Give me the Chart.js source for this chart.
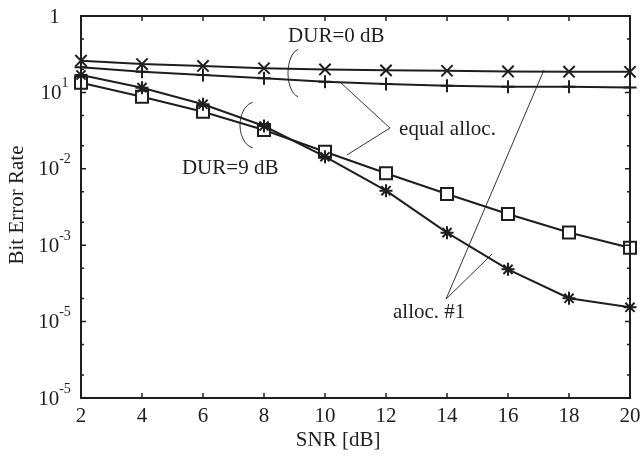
<!DOCTYPE html>
<html>
<head>
<meta charset="utf-8">
<script src="https://cdn.jsdelivr.net/npm/chart.js@4/dist/chart.umd.min.js"></script>
<style>
html,body{margin:0;padding:0;background:#fff;}
#wrap{width:644px;height:458px;position:relative;}
</style>
</head>
<body>
<div id="wrap"><canvas id="c" width="644" height="458"></canvas></div>
<script>
// ---- data ----
const snr = [2, 4, 6, 8, 10, 12, 14, 16, 18, 20];
const berDur0Alloc1 = [0.260, 0.235, 0.222, 0.207, 0.1995, 0.1945, 0.192, 0.188, 0.1866, 0.186];
const berDur0Equal  = [0.213, 0.187, 0.169, 0.153, 0.138, 0.129, 0.1224, 0.1188, 0.1188, 0.1159];
const berDur9Alloc1 = [0.169, 0.1153, 0.0699, 0.0363, 0.01439, 0.00517, 0.00146, 4.83e-4, 2.02e-4, 1.54e-4];
const berDur9Equal  = [0.134, 0.0879, 0.0559, 0.0322, 0.01675, 0.00873, 0.00468, 0.00256, 0.00147, 9.27e-4];

const xTickValues = [2, 4, 6, 8, 10, 12, 14, 16, 18, 20];
const xTickLabels = ["2", "4", "6", "8", "10", "12", "14", "16", "18", "20"];
const yTickValues = [1, 1e-1, 1e-2, 1e-3, 1e-4, 1e-5];
const yTickLabels = ["1", "10^1", "10^-2", "10^-3", "10^-5", "10^-5"];
const yMinorMultipliers = [2, 5];

const xTitle = "SNR [dB]";
const yTitle = "Bit Error Rate";

// annotation anchors in data units (x = SNR, y = log10 BER)
const textNotes = [
  {text: "DUR=0 dB", x: 8.79, ly: -0.262},
  {text: "DUR=9 dB", x: 5.31, ly: -1.99},
  {text: "equal alloc.", x: 12.43, ly: -1.479},
  {text: "alloc. #1", x: 12.23, ly: -3.887}
];
const leaderLines = [
  [[10.49, -0.864], [12.13, -1.466], [10.72, -1.819]],
  [[17.18, -0.707], [13.97, -3.704], [15.48, -3.115]]
];
const brackets = [
  {x: 9.18, ly: -0.746, rx: 12, ry: 24},
  {x: 7.705, ly: -1.427, rx: 15, ry: 23}
];

const INK = '#1e1e1e';
const FONT = '"Liberation Serif", "Times New Roman", serif';

function pts(ys) { return snr.map((x, i) => ({x: x, y: ys[i]})); }

const common = {
  borderColor: INK, borderWidth: 2, pointBorderColor: INK, pointBorderWidth: 2,
  pointBackgroundColor: '#fff', clip: false, tension: 0, fill: false
};

const overlay = {
  id: 'overlay',
  afterDraw(chart) {
    const ctx = chart.ctx, a = chart.chartArea;
    const xs = chart.scales.x, ys = chart.scales.y;
    const X = v => xs.getPixelForValue(v);
    const Y = v => ys.getPixelForValue(v);
    const YL = l => ys.getPixelForValue(Math.pow(10, l));
    ctx.save();
    ctx.strokeStyle = INK; ctx.fillStyle = INK;
    // frame
    ctx.lineWidth = 2;
    ctx.strokeRect(a.left, a.top, a.right - a.left, a.bottom - a.top);
    // x ticks (bottom & top, inward)
    ctx.lineWidth = 1.5;
    ctx.beginPath();
    xTickValues.forEach(v => {
      const px = X(v);
      ctx.moveTo(px, a.bottom); ctx.lineTo(px, a.bottom - 5);
      ctx.moveTo(px, a.top); ctx.lineTo(px, a.top + 5);
    });
    // y major ticks
    yTickValues.forEach(v => {
      const py = Y(v);
      ctx.moveTo(a.left, py); ctx.lineTo(a.left + 5, py);
      ctx.moveTo(a.right, py); ctx.lineTo(a.right - 5, py);
    });
    // y minor ticks
    yTickValues.forEach(v => {
      yMinorMultipliers.forEach(m => {
        const val = v * m;
        if (val >= 1e-5 && val <= 1) {
          const py = Y(val);
          ctx.moveTo(a.left, py); ctx.lineTo(a.left + 3, py);
          ctx.moveTo(a.right, py); ctx.lineTo(a.right - 3, py);
        }
      });
    });
    ctx.stroke();

    // x tick labels
    ctx.font = '21px ' + FONT;
    ctx.textAlign = 'center'; ctx.textBaseline = 'middle';
    xTickValues.forEach((v, i) => ctx.fillText(xTickLabels[i], X(v), a.bottom + 18));

    // y tick labels with superscripts
    const cx = a.left - 26.5;
    yTickValues.forEach((v, i) => {
      const lab = yTickLabels[i];
      const py = Y(v);
      const parts = lab.split('^');
      ctx.textBaseline = 'middle'; ctx.textAlign = 'left';
      ctx.font = '21px ' + FONT;
      const w0 = ctx.measureText(parts[0]).width;
      let w1 = 0;
      if (parts[1]) { ctx.font = '14px ' + FONT; w1 = ctx.measureText(parts[1]).width; }
      const left = cx - (w0 + w1) / 2;
      ctx.font = '21px ' + FONT;
      ctx.fillText(parts[0], left, py + 1);
      if (parts[1]) {
        ctx.font = '14px ' + FONT;
        ctx.fillText(parts[1], left + w0, py - 9);
      }
    });

    // axis titles
    ctx.font = '21px ' + FONT;
    ctx.textAlign = 'center'; ctx.textBaseline = 'middle';
    ctx.fillText(xTitle, X(10.43), a.bottom + 42);
    ctx.save();
    ctx.translate(a.left - 64, (a.top + a.bottom) / 2 - 2);
    ctx.rotate(-Math.PI / 2);
    ctx.fillText(yTitle, 0, 0);
    ctx.restore();

    // annotation text
    ctx.textAlign = 'left';
    textNotes.forEach(n => ctx.fillText(n.text, X(n.x), YL(n.ly)));

    // leader lines
    ctx.lineWidth = 0.9;
    leaderLines.forEach(l => {
      ctx.beginPath();
      l.forEach((p, i) => { const px = X(p[0]), py = YL(p[1]); if (i) ctx.lineTo(px, py); else ctx.moveTo(px, py); });
      ctx.stroke();
    });
    // brackets (partial ellipses)
    brackets.forEach(b => {
      ctx.beginPath();
      ctx.ellipse(X(b.x), YL(b.ly), b.rx, b.ry, 0, 0.55 * Math.PI, 1.45 * Math.PI);
      ctx.stroke();
    });
    ctx.restore();
  }
};

new Chart(document.getElementById('c'), {
  type: 'line',
  data: {
    datasets: [
      Object.assign({label: 'DUR=0 dB, alloc. #1', data: pts(berDur0Alloc1), pointStyle: 'crossRot', pointRadius: 8}, common),
      Object.assign({label: 'DUR=0 dB, equal alloc.', data: pts(berDur0Equal), pointStyle: 'cross', pointRadius: 6.5}, common),
      Object.assign({label: 'DUR=9 dB, alloc. #1', data: pts(berDur9Alloc1), pointStyle: 'star', pointRadius: 6.5}, common),
      Object.assign({label: 'DUR=9 dB, equal alloc.', data: pts(berDur9Equal), pointStyle: 'rect', pointRadius: 8.5}, common)
    ]
  },
  options: {
    responsive: false,
    animation: false,
    events: [],
    layout: {padding: {left: 81, top: 16, right: 14, bottom: 60}},
    plugins: {legend: {display: false}, tooltip: {enabled: false}},
    scales: {
      x: {type: 'linear', min: 2, max: 20, display: false},
      y: {type: 'logarithmic', min: 1e-5, max: 1, display: false}
    }
  },
  plugins: [overlay]
});
</script>
</body>
</html>
